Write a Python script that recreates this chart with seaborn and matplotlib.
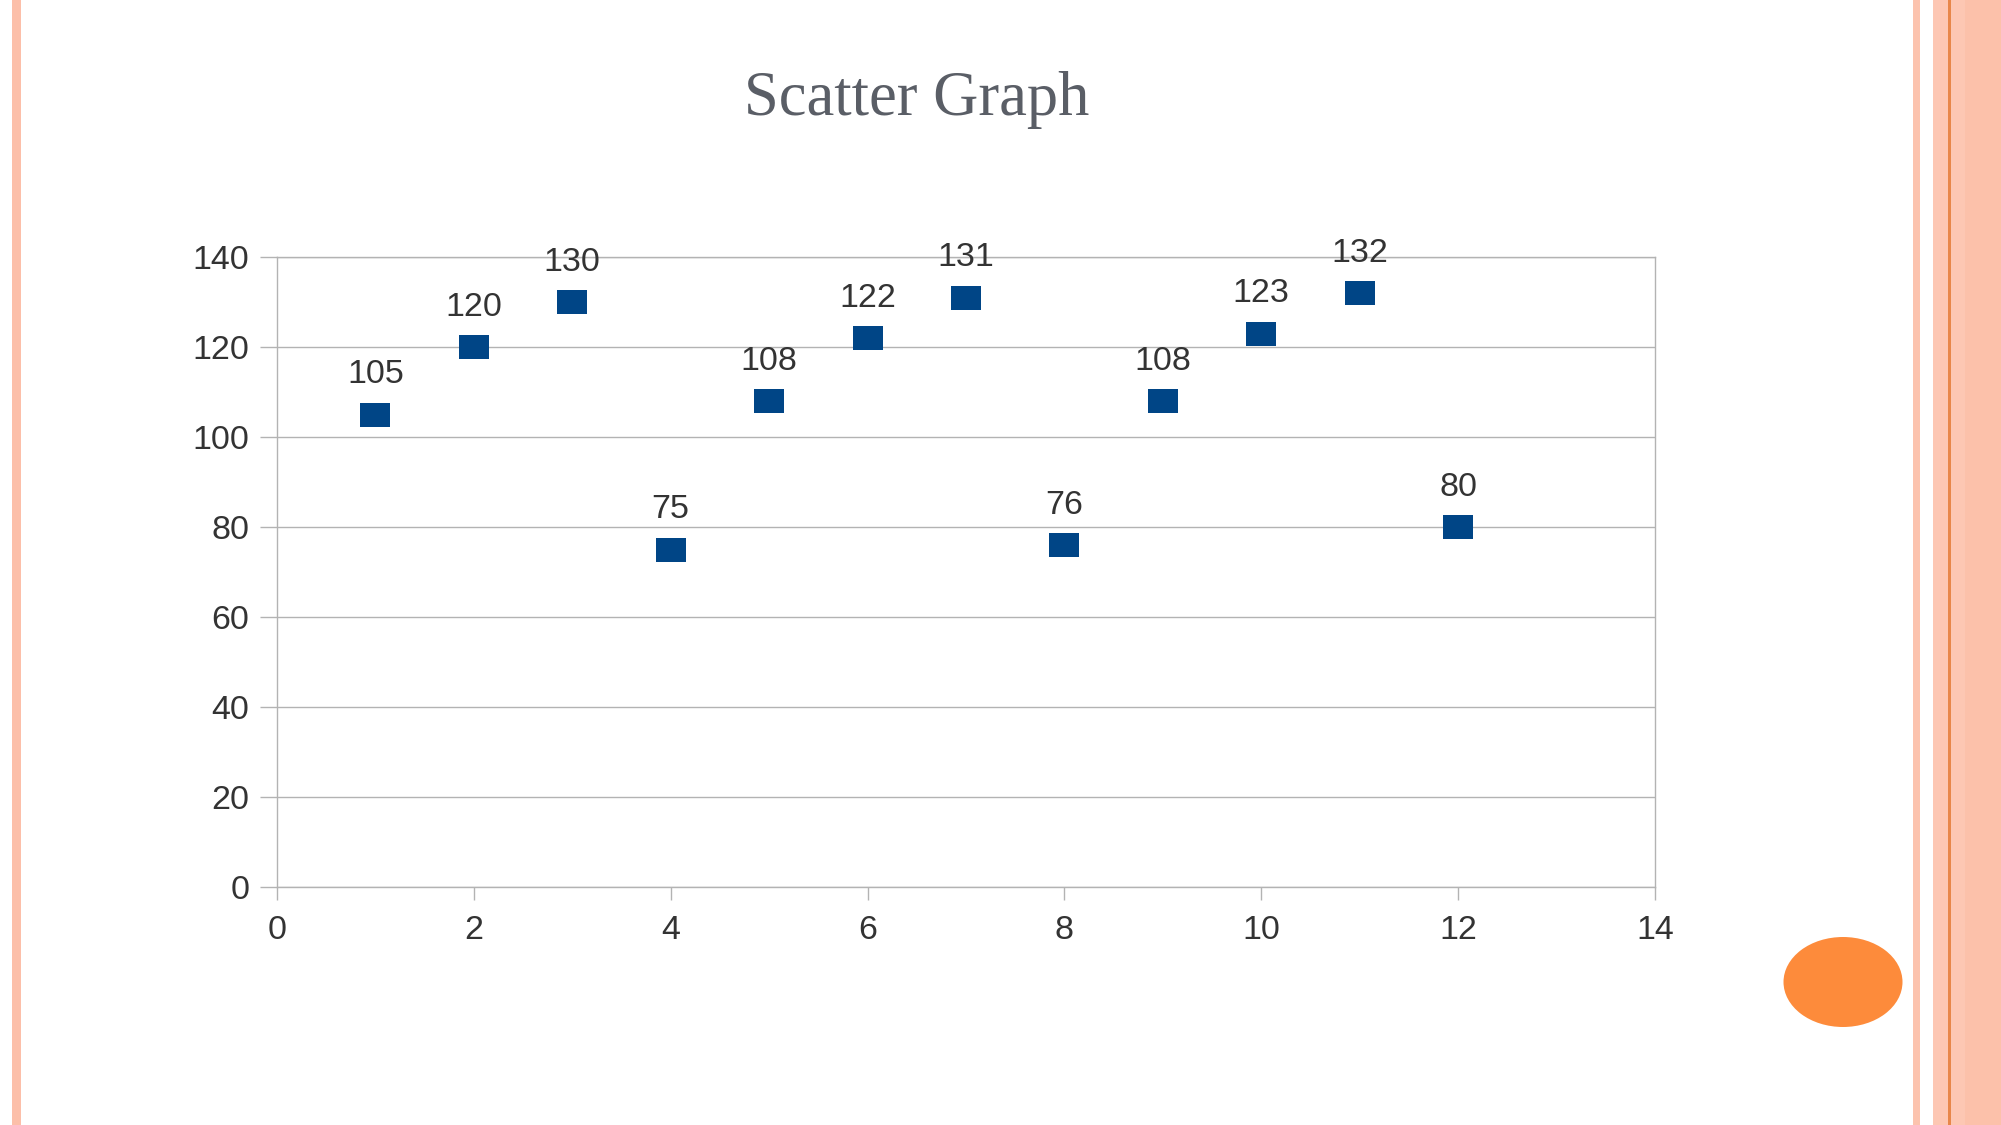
import matplotlib
matplotlib.use("Agg")
import matplotlib.pyplot as plt
import seaborn as sns
import pandas as pd
from matplotlib.patches import Rectangle, Ellipse

# Data
x_values = [1, 2, 3, 4, 5, 6, 7, 8, 9, 10, 11, 12]
y_values = [105, 120, 130, 75, 108, 122, 131, 76, 108, 123, 132, 80]
x_ticks = [0, 2, 4, 6, 8, 10, 12, 14]
y_ticks = [0, 20, 40, 60, 80, 100, 120, 140]
title = "Scatter Graph"

df = pd.DataFrame({"x": x_values, "y": y_values})

sns.set_theme(style="white")
plt.rcParams['font.family'] = ['Liberation Sans', 'DejaVu Sans']

W, H = 2001, 1125
fig = plt.figure(figsize=(W / 100, H / 100), dpi=100)
fig.patch.set_facecolor("white")

def px_rect(x0, x1, color, y0=0, y1=H):
    fig.add_artist(Rectangle((x0 / W, 1 - y1 / H), (x1 - x0) / W, (y1 - y0) / H,
                             transform=fig.transFigure, facecolor=color,
                             edgecolor="none", zorder=0))

# decorative stripes
px_rect(12, 21, "#fcbfa9")
px_rect(1913, 1920, "#fcc3ae")
px_rect(1933, 1965, "#fdc7b3")
px_rect(1965, 2001, "#fcc1aa")
px_rect(1948, 1950.5, "#e8874a")

fig.add_artist(Ellipse((1843 / W, 1 - 982 / H), 119 / W, 90 / H,
                       transform=fig.transFigure, facecolor="#fd8b3b",
                       edgecolor="none", zorder=1))

ax = fig.add_axes([277 / W, 1 - 887 / H, (1655 - 277) / W, (887 - 257) / H])
ax.set_facecolor("white")

marker_verts = [(-0.6, -0.5), (0.6, -0.5), (0.6, 0.5), (-0.6, 0.5), (-0.6, -0.5)]
sns.scatterplot(data=df, x="x", y="y", ax=ax, marker=marker_verts, s=466,
                color="#004586", linewidth=0, zorder=3, legend=False)

label_size = 24.5
for xv, yv in zip(x_values, y_values):
    ax.annotate(str(yv), (xv, yv), xytext=(0, 22.5), textcoords="offset points",
                ha="center", va="baseline", fontsize=label_size, color="#333333",
                zorder=4)

ax.set_xlim(0, 14)
ax.set_ylim(0, 140)
ax.set_xticks(x_ticks)
ax.set_yticks(y_ticks)
ax.set_xlabel("")
ax.set_ylabel("")

grid_c = "#b3b3b3"
ax.yaxis.grid(True, color=grid_c, linewidth=1.0)
ax.xaxis.grid(False)
for sp in ax.spines.values():
    sp.set_visible(True)
    sp.set_color(grid_c)
    sp.set_linewidth(1.0)

ax.tick_params(axis="y", which="both", length=12, width=1.0, color=grid_c,
               pad=8, labelsize=label_size, labelcolor="#333333", left=True)
ax.tick_params(axis="x", which="both", length=9.5, width=1.0, color=grid_c,
               pad=10.5, labelsize=label_size, labelcolor="#333333", bottom=True)

fig.text(917 / W, 1 - 115 / H, title, ha="center", va="baseline",
         fontsize=45, color="#5a5e66", family=["Liberation Serif", "DejaVu Serif"])

fig.savefig("out.png", dpi=100, facecolor="white")
